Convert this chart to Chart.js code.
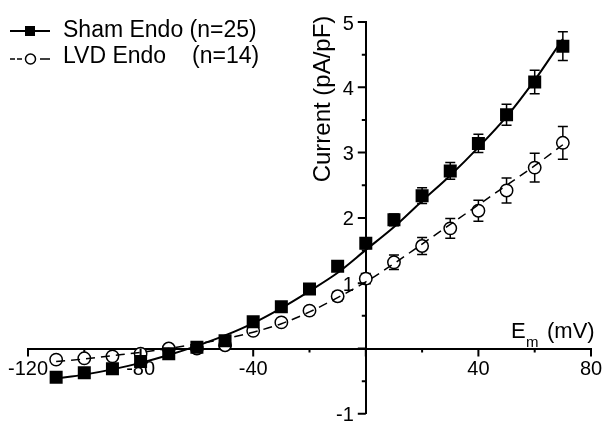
<!DOCTYPE html>
<html>
<head>
<meta charset="utf-8">
<script src="https://cdn.jsdelivr.net/npm/chart.js@4"></script>
<style>
  html, body { margin: 0; padding: 0; background: #fff; }
  canvas { display: block; }
</style>
</head>
<body>
<canvas id="chart" width="603" height="423"></canvas>
<script>
// ===== Data =====
const voltages = [-110, -100, -90, -80, -70, -60, -50, -40, -30, -20, -10, 0, 10, 20, 30, 40, 50, 60, 70];

const shamMean = [-0.44, -0.37, -0.31, -0.20, -0.08, 0.02, 0.12, 0.41, 0.64, 0.91, 1.26, 1.61, 1.97, 2.34, 2.72, 3.14, 3.58, 4.08, 4.63];
const shamErr  = [0.04, 0.04, 0.04, 0.04, 0.04, 0.05, 0.05, 0.05, 0.06, 0.07, 0.07, 0.08, 0.09, 0.12, 0.13, 0.14, 0.16, 0.18, 0.22];
const shamFit  = [-0.46, -0.40, -0.32, -0.22, -0.10, 0.04, 0.20, 0.39, 0.62, 0.88, 1.16, 1.51, 1.86, 2.26, 2.65, 3.08, 3.55, 4.11, 4.74];

const lvdMean = [-0.17, -0.15, -0.12, -0.08, 0.00, 0.00, 0.05, 0.27, 0.40, 0.58, 0.80, 1.07, 1.32, 1.57, 1.84, 2.11, 2.42, 2.77, 3.15];
const lvdErr  = [0.03, 0.03, 0.03, 0.03, 0.03, 0.04, 0.04, 0.05, 0.05, 0.06, 0.07, 0.08, 0.11, 0.13, 0.15, 0.16, 0.19, 0.22, 0.25];
const lvdFit  = [-0.20, -0.16, -0.11, -0.06, 0.00, 0.07, 0.15, 0.25, 0.38, 0.56, 0.78, 1.02, 1.30, 1.60, 1.90, 2.20, 2.50, 2.80, 3.12];

const xTickLabels = [-120, -80, -40, 40, 80];
const yTickLabels = [-1, 1, 2, 3, 4, 5];

const seriesNames = ["Sham Endo", "LVD Endo"];
const seriesCounts = ["(n=25)", "(n=14)"];

const FONT = "'Liberation Sans', Arial, sans-serif";

function toPoints(ys) {
    return voltages.map((v, i) => ({ x: v, y: ys[i] }));
}

// ===== Error bars, drawn under the markers =====
const errorBars = {
    id: "errorBars",
    beforeDatasetsDraw(chart) {
        const { ctx, scales: { x, y } } = chart;
        ctx.save();
        ctx.strokeStyle = "#000";
        ctx.lineWidth = 1.5;
        [[shamMean, shamErr], [lvdMean, lvdErr]].forEach(([means, errs]) => {
            voltages.forEach((v, i) => {
                const px = x.getPixelForValue(v);
                const top = y.getPixelForValue(means[i] + errs[i]);
                const bot = y.getPixelForValue(means[i] - errs[i]);
                ctx.beginPath();
                ctx.moveTo(px, top); ctx.lineTo(px, bot);
                ctx.moveTo(px - 5, top); ctx.lineTo(px + 5, top);
                ctx.moveTo(px - 5, bot); ctx.lineTo(px + 5, bot);
                ctx.stroke();
            });
        });
        ctx.restore();
    }
};

// ===== Ticks, tick labels, titles and legend =====
const decorations = {
    id: "decorations",
    afterDraw(chart) {
        const { ctx, scales: { x, y } } = chart;
        const x0 = x.getPixelForValue(0);
        const y0 = y.getPixelForValue(0);
        ctx.save();
        ctx.strokeStyle = "#000";
        ctx.fillStyle = "#000";
        ctx.lineWidth = 2;

        // ticks: every 20 mV / 0.5 pA/pF, long ones where labelled
        ctx.beginPath();
        x.ticks.forEach(t => {
            const px = x.getPixelForValue(t.value);
            ctx.moveTo(px, y0); ctx.lineTo(px, y0 + (t.value % 40 === 0 ? 8 : 4));
        });
        y.ticks.forEach(t => {
            const py = y.getPixelForValue(t.value);
            ctx.moveTo(x0, py); ctx.lineTo(x0 - (Number.isInteger(t.value) ? 8 : 4), py);
        });
        ctx.stroke();

        // tick labels
        ctx.font = "20px " + FONT;
        ctx.textBaseline = "middle";
        ctx.textAlign = "center";
        xTickLabels.forEach(v => ctx.fillText(String(v), x.getPixelForValue(v), y0 + 21));
        ctx.textAlign = "right";
        yTickLabels.forEach(v => ctx.fillText(String(v), x0 - 12, y.getPixelForValue(v) + 2));

        // y title
        ctx.save();
        ctx.translate(323, 99);
        ctx.rotate(-Math.PI / 2);
        ctx.font = "24px " + FONT;
        ctx.textAlign = "center";
        ctx.textBaseline = "middle";
        ctx.fillText("Current (pA/pF)", 0, 0);
        ctx.restore();

        // x title with subscript
        ctx.textBaseline = "alphabetic";
        ctx.textAlign = "left";
        ctx.font = "22px " + FONT;
        ctx.fillText("E", 511, 338);
        ctx.font = "15px " + FONT;
        ctx.fillText("m", 526, 347);
        ctx.font = "22px " + FONT;
        ctx.fillText("(mV)", 547, 338);

        // legend
        const rows = [31, 59];
        ctx.lineWidth = 2;
        // Sham: solid line with filled square
        ctx.beginPath();
        ctx.moveTo(10, rows[0]); ctx.lineTo(50, rows[0]);
        ctx.stroke();
        ctx.fillRect(25, rows[0] - 5, 10, 10);
        // LVD: dashed line with open circle
        ctx.lineWidth = 1.5;
        ctx.beginPath();
        ctx.moveTo(10, rows[1]); ctx.lineTo(15, rows[1]);
        ctx.moveTo(17, rows[1]); ctx.lineTo(22, rows[1]);
        ctx.moveTo(40, rows[1]); ctx.lineTo(50, rows[1]);
        ctx.stroke();
        ctx.beginPath();
        ctx.arc(30.5, rows[1], 5, 0, Math.PI * 2);
        ctx.fillStyle = "#fff";
        ctx.fill();
        ctx.stroke();

        ctx.fillStyle = "#000";
        ctx.font = "23px " + FONT;
        ctx.textBaseline = "alphabetic";
        ctx.fillText(seriesNames[0] + " " + seriesCounts[0], 63, 37);
        ctx.fillText(seriesNames[1], 63, 63);
        ctx.fillText(seriesCounts[1], 192, 63);
        ctx.restore();
    }
};

const noPad = scale => {
    scale.paddingLeft = 0;
    scale.paddingRight = 0;
    scale.paddingTop = 0;
    scale.paddingBottom = 0;
};

new Chart(document.getElementById("chart"), {
    type: "scatter",
    data: {
        datasets: [
            {
                label: seriesNames[0] + " fit",
                data: toPoints(shamFit),
                showLine: true,
                cubicInterpolationMode: "monotone",
                borderColor: "#000",
                borderWidth: 2,
                pointRadius: 0,
                order: 0
            },
            {
                label: seriesNames[1] + " fit",
                data: toPoints(lvdFit),
                showLine: true,
                cubicInterpolationMode: "monotone",
                borderColor: "#000",
                borderWidth: 1.5,
                borderDash: [9, 6],
                pointRadius: 0,
                order: 0
            },
            {
                label: seriesNames[0],
                data: toPoints(shamMean),
                pointStyle: "rect",
                pointRadius: 9.2,
                backgroundColor: "#000",
                borderColor: "#000",
                borderWidth: 0,
                order: 1
            },
            {
                label: seriesNames[1],
                data: toPoints(lvdMean),
                pointStyle: "circle",
                pointRadius: 6.2,
                backgroundColor: "#fff",
                borderColor: "#000",
                borderWidth: 1.5,
                order: 1
            }
        ]
    },
    options: {
        responsive: false,
        animation: false,
        layout: { padding: { left: 28, right: 12, top: 22, bottom: 3 } },
        plugins: { legend: { display: false }, tooltip: { enabled: false } },
        scales: {
            x: {
                type: "linear",
                min: -120,
                max: 80,
                position: { y: 0 },
                afterFit: noPad,
                border: { color: "#000", width: 2 },
                grid: { display: false, drawTicks: false },
                ticks: { stepSize: 20, autoSkip: false, display: false }
            },
            y: {
                type: "linear",
                min: -1,
                max: 5,
                position: { x: 0 },
                afterFit: noPad,
                border: { color: "#000", width: 2 },
                grid: { display: false, drawTicks: false },
                ticks: { stepSize: 0.5, autoSkip: false, display: false }
            }
        }
    },
    plugins: [errorBars, decorations]
});
</script>
</body>
</html>
